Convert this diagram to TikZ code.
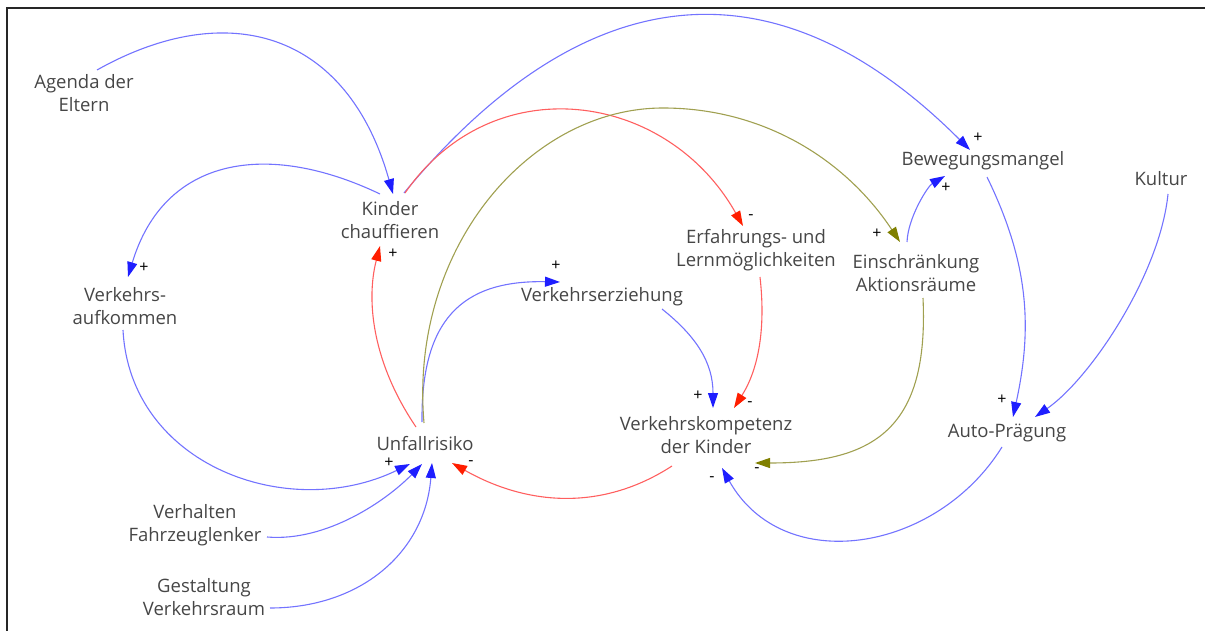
\documentclass[tikz,border=0pt]{standalone}
\usepackage{fontspec}
\setmainfont{Open Sans}
\usetikzlibrary{arrows.meta}
\definecolor{lineblue}{RGB}{115,115,255}
\definecolor{tipblue}{RGB}{30,30,255}
\definecolor{linered}{RGB}{255,95,95}
\definecolor{tipred}{RGB}{255,30,0}
\definecolor{lineolive}{RGB}{160,160,80}
\definecolor{tipolive}{RGB}{128,128,0}
\definecolor{txt}{RGB}{70,70,70}
\tikzset{
  var/.style={inner sep=0pt, align=center, text=txt, font=\fontsize{18.5}{23.5}\selectfont},
  pol/.style={inner sep=0pt, text=black, font=\fontsize{16}{16}\selectfont},
  lk/.style={line width=1.1pt},
  bluelink/.style={lk, draw=lineblue, -{Triangle[length=15pt,width=10pt,color=tipblue]}},
  redlink/.style={lk, draw=linered, -{Triangle[length=15pt,width=10pt,color=tipred]}},
  olivelink/.style={lk, draw=lineolive, -{Triangle[length=15pt,width=10pt,color=tipolive]}},
}
\begin{document}
\begin{tikzpicture}[x=1pt,y=-1pt]
\useasboundingbox (0,0) rectangle (1205,631);
\draw[line width=2pt, black!85] (6.5,631) -- (6.5,8) -- (1205,8);

\node[var] (agenda) at (84,93) {Agenda der\\Eltern};
\node[var] (kc) at (390,220) {Kinder\\chauffieren};
\node[var] (va) at (125,306) {Verkehrs-\\aufkommen};
\node[var] (erf) at (756,250) {Erfahrungs- und\\Lernmöglichkeiten};
\node[var] (ve) at (602,297) {Verkehrserziehung};
\node[var] (ein) at (916,273) {Einschränkung\\Aktionsräume};
\node[var] (bew) at (983,161) {Bewegungsmangel};
\node[var] (kul) at (1161,179) {Kultur};
\node[var] (ap) at (1007,433) {Auto-Prägung};
\node[var] (vk) at (706,435) {Verkehrskompetenz\\der Kinder};
\node[var] (ur) at (425,444) {Unfallrisiko};
\node[var] (vf) at (195,525) {Verhalten\\Fahrzeuglenker};
\node[var] (gv) at (204,597) {Gestaltung\\Verkehrsraum};

% links
\draw[bluelink] ([shift={(13,-23)}]agenda.center) .. controls (227,-3) and (347,31) .. ([shift={(3,-26)}]kc.center);
\draw[bluelink] ([shift={(-10,-26)}]kc.center) .. controls (267,140) and (164,157) .. ([shift={(3,-29)}]va.center);
\draw[bluelink] ([shift={(14,-27)}]kc.center) .. controls (583,-23) and (774,-46) .. ([shift={(-13,-11)}]bew.center);
\draw[redlink] ([shift={(15,-27)}]kc.center) .. controls (493,66) and (667,91) .. ([shift={(-13,-24)}]erf.center);
\draw[redlink] ([shift={(-9,-17)}]ur.center) .. controls (372,362) and (366,300) .. ([shift={(-10,26)}]kc.center);
\draw[bluelink] ([shift={(-3,-22)}]ur.center) .. controls (421,322) and (460,280) .. ([shift={(-42,-15)}]ve.center);
\draw[olivelink] ([shift={(-1,-21)}]ur.center) .. controls (409,249) and (529,108) .. (663,108) .. controls (763,108) and (845,159) .. ([shift={(-16,-31)}]ein.center);
\draw[bluelink] ([shift={(60,12)}]ve.center) .. controls (697,337) and (713,363) .. ([shift={(7,-27)}]vk.center);
\draw[redlink] ([shift={(4,27)}]erf.center) .. controls (766,330) and (758,370) .. ([shift={(28,-27)}]vk.center);
\draw[redlink] ([shift={(-34,31)}]vk.center) .. controls (601,512) and (526,505) .. ([shift={(27,19)}]ur.center);
\draw[bluelink] ([shift={(-9,-31)}]ein.center) .. controls (908,217) and (928,186) .. ([shift={(-38,15)}]bew.center);
\draw[olivelink] ([shift={(7,25)}]ein.center) .. controls (929,428) and (875,463) .. ([shift={(49,28)}]vk.center);
\draw[bluelink] ([shift={(4,16)}]bew.center) .. controls (1030,265) and (1032,330) .. ([shift={(6,-16)}]ap.center);
\draw[bluelink] ([shift={(7,15)}]kul.center) .. controls (1160,274) and (1091,378) .. ([shift={(28,-16)}]ap.center);
\draw[bluelink] ([shift={(-5,14)}]ap.center) .. controls (936,553) and (783,577) .. ([shift={(16,33)}]vk.center);
\draw[bluelink] ([shift={(-2,24)}]va.center) .. controls (130,465) and (288,523) .. ([shift={(-15,20)}]ur.center);
\draw[bluelink] ([shift={(72,12)}]vf.center) .. controls (327,542) and (387,500) .. ([shift={(-3,20)}]ur.center);
\draw[bluelink] ([shift={(66,11)}]gv.center) .. controls (360,608) and (425,553) .. ([shift={(7,19)}]ur.center);

% polarities
\node[pol] (p1) at (144,268) {+};
\node[pol] (p2) at (393,254) {+};
\node[pol] (p3) at (751,217) {-};
\node[pol] (p4) at (978,138) {+};
\node[pol] (p5) at (946,188) {+};
\node[pol] (p6) at (877,234) {+};
\node[pol] (p7) at (556,266) {+};
\node[pol] (p8) at (698,396) {+};
\node[pol] (p9) at (750,404) {-};
\node[pol] (p10) at (757,470) {-};
\node[pol] (p11) at (712,479) {-};
\node[pol] (p12) at (1002,400) {+};
\node[pol] (p13) at (389,463) {+};
\node[pol] (p14) at (471,463) {-};
\end{tikzpicture}
\end{document}
